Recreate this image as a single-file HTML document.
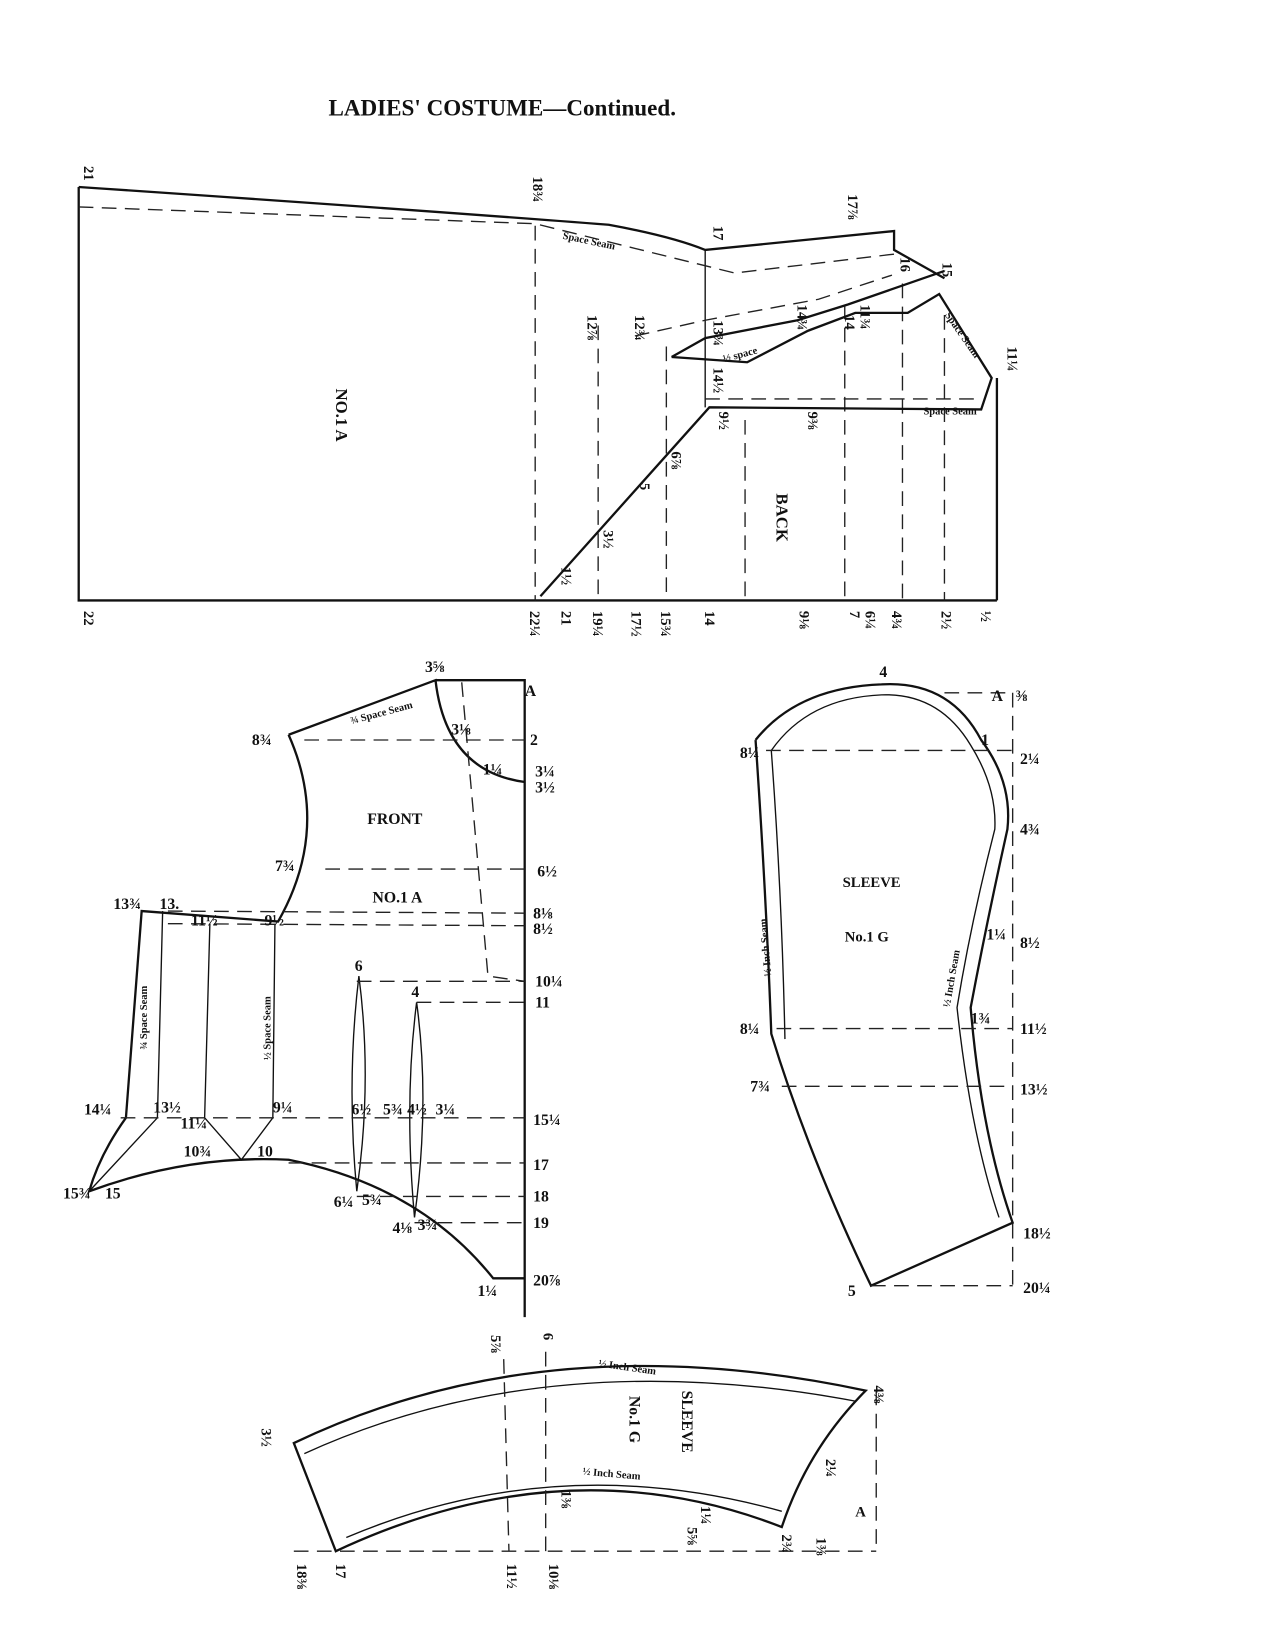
<!DOCTYPE html>
<html><head><meta charset="utf-8"><style>
html,body{margin:0;padding:0;background:#fff;}
svg{display:block}
text{font-family:"Liberation Serif",serif;font-weight:bold;fill:#111}
.l{stroke:#111;stroke-width:2.2;fill:none}
.t{stroke:#111;stroke-width:1.3;fill:none}
.d{stroke:#222;stroke-width:1.3;fill:none;stroke-dasharray:14 8}
</style></head><body>
<svg width="1275" height="1650" viewBox="0 0 1215 1572" xmlns="http://www.w3.org/2000/svg">
<text x="313" y="110" font-size="22" font-weight="normal">LADIES' COSTUME—Continued.</text>

<!-- TOP PATTERN -->
<path class="l" d="M75 178 L75 572 L950 572"/>
<path class="l" d="M75 178 Q400 200 580 214 Q640 225 672 238 L852 220 L852 238 L900 265"/>
<path class="t" d="M672 238 L672 388"/>
<path class="d" d="M75 197 L510 213 L700 260 L852 242"/>
<path class="d" d="M510 215 L510 572 M570 310 L570 572 M635 330 L635 572 M710 400 L710 572 M805 290 L805 572 M860 270 L860 572 M900 300 L900 572"/>
<path class="l" d="M515 568 L676 388 L935 390 L945 360 L895 280 L865 298 L815 298 L770 315 L712 345 L640 340"/>
<path class="l" d="M640 340 L672 322 L760 305 L808 290 L900 258"/>
<path class="d" d="M605 320 L672 305 L780 285 L850 262"/>
<path class="d" d="M672 380 L935 380"/>
<path class="l" d="M950 360 L950 572"/>
<text x="535" y="245" font-size="10" transform="rotate(12 620 240)">Space Seam</text>
<text x="880" y="395" font-size="10">Space Seam</text>
<text x="900" y="300" font-size="10" transform="rotate(55 900 300)">Space Seam</text>
<text x="690" y="345" font-size="10" transform="rotate(-15 690 345)">½ space</text>
<text x="320" y="370" font-size="16" transform="rotate(90 320 370)">NO.1 A</text>
<text x="740" y="470" font-size="16" transform="rotate(90 740 470)">BACK</text>
<g font-size="14">
<text x="80" y="158" transform="rotate(90 80 158)">21</text>
<text x="508" y="168" transform="rotate(90 508 168)">18¾</text>
<text x="680" y="215" transform="rotate(90 680 215)">17</text>
<text x="808" y="185" transform="rotate(90 808 185)">17⅞</text>
<text x="858" y="245" transform="rotate(90 858 245)">16</text>
<text x="898" y="250" transform="rotate(90 898 250)">15</text>
<text x="960" y="330" transform="rotate(90 960 330)">11¼</text>
<text x="560" y="300" transform="rotate(90 560 300)">12⅞</text>
<text x="605" y="300" transform="rotate(90 605 300)">12¾</text>
<text x="680" y="305" transform="rotate(90 680 305)">13¾</text>
<text x="680" y="350" transform="rotate(90 680 350)">14½</text>
<text x="760" y="290" transform="rotate(90 760 290)">14¾</text>
<text x="805" y="300" transform="rotate(90 805 300)">14</text>
<text x="820" y="290" transform="rotate(90 820 290)">11¾</text>
<text x="685" y="392" transform="rotate(90 685 392)">9½</text>
<text x="770" y="392" transform="rotate(90 770 392)">9⅜</text>
<text x="640" y="430" transform="rotate(90 640 430)">6⅞</text>
<text x="610" y="460" transform="rotate(90 610 460)">5</text>
<text x="575" y="505" transform="rotate(90 575 505)">3½</text>
<text x="535" y="540" transform="rotate(90 535 540)">1½</text>
<text x="80" y="582" transform="rotate(90 80 582)">22</text>
<text x="505" y="582" transform="rotate(90 505 582)">22¼</text>
<text x="535" y="582" transform="rotate(90 535 582)">21</text>
<text x="565" y="582" transform="rotate(90 565 582)">19¼</text>
<text x="602" y="582" transform="rotate(90 602 582)">17½</text>
<text x="630" y="582" transform="rotate(90 630 582)">15¾</text>
<text x="672" y="582" transform="rotate(90 672 582)">14</text>
<text x="762" y="582" transform="rotate(90 762 582)">9⅛</text>
<text x="810" y="582" transform="rotate(90 810 582)">7</text>
<text x="825" y="582" transform="rotate(90 825 582)">6¼</text>
<text x="850" y="582" transform="rotate(90 850 582)">4¾</text>
<text x="897" y="582" transform="rotate(90 897 582)">2½</text>
<text x="935" y="582" transform="rotate(90 935 582)">½</text>
</g>

<!-- FRONT -->
<path class="l" d="M415 648 L500 648 L500 1255"/>
<path class="l" d="M275 700 L415 648 Q425 735 500 745"/>
<path class="l" d="M275 700 Q315 790 265 878 L135 868 L120 1065 Q95 1100 85 1135 Q180 1100 275 1105 Q400 1130 470 1218 L500 1218"/>
<path class="t" d="M155 868 L150 1065 L85 1135 M200 880 L195 1065 L230 1105 L260 1065 L262 880"/>
<path class="t" d="M342 930 Q355 1030 340 1135 Q330 1030 342 930 M397 955 Q410 1050 395 1160 Q385 1050 397 955"/>
<path class="d" d="M290 705 L500 705 M310 828 L500 828 M160 868 L500 870 M160 880 L500 882 M340 935 L500 935 M397 955 L500 955 M115 1065 L500 1065 M275 1108 L500 1108 M340 1140 L500 1140 M395 1165 L500 1165 M440 650 L465 930 L500 935"/>
<text x="350" y="785" font-size="15">FRONT</text>
<text x="355" y="860" font-size="15">NO.1 A</text>
<text x="335" y="690" font-size="10" transform="rotate(-15 335 690)">¾ Space Seam</text>
<text x="140" y="1000" font-size="10" transform="rotate(-90 140 1000)">¾ Space Seam</text>
<text x="258" y="1010" font-size="10" transform="rotate(-90 258 1010)">½ Space Seam</text>
<g font-size="15">
<text x="405" y="640">3⅝</text><text x="500" y="663">A</text>
<text x="240" y="710">8¾</text><text x="430" y="700">3⅛</text>
<text x="505" y="710">2</text><text x="460" y="738">1¼</text>
<text x="510" y="740">3¼</text><text x="510" y="755">3½</text>
<text x="262" y="830">7¾</text><text x="512" y="835">6½</text>
<text x="108" y="866">13¾</text><text x="152" y="866">13.</text>
<text x="182" y="882">11½</text><text x="252" y="882">9½</text>
<text x="508" y="875">8⅛</text><text x="508" y="890">8½</text>
<text x="338" y="925">6</text><text x="392" y="950">4</text>
<text x="510" y="940">10¼</text><text x="510" y="960">11</text>
<text x="80" y="1062">14¼</text><text x="146" y="1060">13½</text>
<text x="260" y="1060">9¼</text><text x="172" y="1075">11¼</text>
<text x="335" y="1062">6½</text><text x="365" y="1062">5¾</text>
<text x="388" y="1062">4½</text><text x="415" y="1062">3¼</text>
<text x="508" y="1072">15¼</text>
<text x="175" y="1102">10¾</text><text x="245" y="1102">10</text>
<text x="508" y="1115">17</text><text x="508" y="1145">18</text>
<text x="318" y="1150">6¼</text><text x="345" y="1148">5¾</text>
<text x="508" y="1170">19</text><text x="374" y="1175">4⅛</text><text x="398" y="1172">3¾</text>
<text x="60" y="1142">15¾</text><text x="100" y="1142">15</text>
<text x="455" y="1235">1¼</text><text x="508" y="1225">20⅞</text>
</g>

<!-- SLEEVE RIGHT -->
<path class="l" d="M720 705 Q760 655 840 652 Q905 648 935 705 Q965 745 960 790 Q940 880 925 960 Q935 1080 965 1165 L830 1225 Q770 1100 735 985 Q730 850 720 705"/>
<path class="t" d="M735 715 Q770 665 840 662 Q895 660 925 710 Q950 750 948 790 Q925 880 912 960 Q925 1080 952 1160 M748 990 Q745 850 735 715"/>
<path class="d" d="M900 660 L965 660 M730 715 L965 715 M740 980 L965 980 M745 1035 L965 1035 M830 1225 L965 1225 M965 660 L965 1225"/>
<text x="803" y="845" font-size="14">SLEEVE</text>
<text x="805" y="897" font-size="14">No.1 G</text>
<text x="905" y="960" font-size="10" transform="rotate(-80 905 960)">½ Inch Seam</text>
<text x="735" y="930" font-size="10" transform="rotate(-95 735 930)">½ Inch Seam</text>
<g font-size="15">
<text x="838" y="645">4</text><text x="945" y="668">A</text><text x="968" y="668">⅜</text>
<text x="705" y="722">8¼</text><text x="935" y="710">1</text><text x="972" y="728">2¼</text>
<text x="972" y="795">4¾</text><text x="940" y="895">1¼</text><text x="972" y="903">8½</text>
<text x="705" y="985">8¼</text><text x="925" y="975">1¾</text><text x="972" y="985">11½</text>
<text x="715" y="1040">7¾</text><text x="972" y="1043">13½</text>
<text x="975" y="1180">18½</text><text x="808" y="1235">5</text><text x="975" y="1232">20¼</text>
</g>

<!-- BOTTOM SLEEVE -->
<path class="l" d="M280 1375 Q520 1260 825 1325 Q770 1380 745 1455 Q540 1375 320 1478 Z"/>
<path class="t" d="M290 1385 Q520 1280 815 1335 M330 1465 Q530 1380 745 1440"/>
<path class="d" d="M280 1478 L835 1478 M835 1325 L835 1478 M480 1295 L485 1478 M520 1288 L520 1478"/>
<text x="650" y="1325" font-size="15" transform="rotate(90 650 1325)">SLEEVE</text>
<text x="600" y="1330" font-size="15" transform="rotate(90 600 1330)">No.1 G</text>
<text x="570" y="1302" font-size="10" transform="rotate(8 570 1302)">½ Inch Seam</text>
<text x="555" y="1405" font-size="10" transform="rotate(5 555 1405)">½ Inch Seam</text>
<g font-size="14">
<text x="258" y="1378" transform="rotate(90 262 1365)">3½</text>
<text x="468" y="1272" transform="rotate(90 468 1272)">5⅞</text>
<text x="518" y="1270" transform="rotate(90 518 1270)">6</text>
<text x="833" y="1320" transform="rotate(90 833 1320)">4⅜</text>
<text x="787" y="1390" transform="rotate(90 787 1390)">2¼</text>
<text x="535" y="1420" transform="rotate(90 535 1420)">1⅜</text>
<text x="668" y="1435" transform="rotate(90 668 1435)">1¼</text>
<text x="815" y="1445">A</text>
<text x="283" y="1490" transform="rotate(90 283 1490)">18⅜</text>
<text x="320" y="1490" transform="rotate(90 320 1490)">17</text>
<text x="483" y="1490" transform="rotate(90 483 1490)">11½</text>
<text x="523" y="1490" transform="rotate(90 523 1490)">10⅛</text>
<text x="655" y="1455" transform="rotate(90 655 1455)">5⅝</text>
<text x="745" y="1462" transform="rotate(90 745 1462)">2¾</text>
<text x="778" y="1465" transform="rotate(90 778 1465)">1⅜</text>
</g>
<text x="548" y="1594" font-size="10" font-weight="normal">35</text>
</svg>
</body></html>
